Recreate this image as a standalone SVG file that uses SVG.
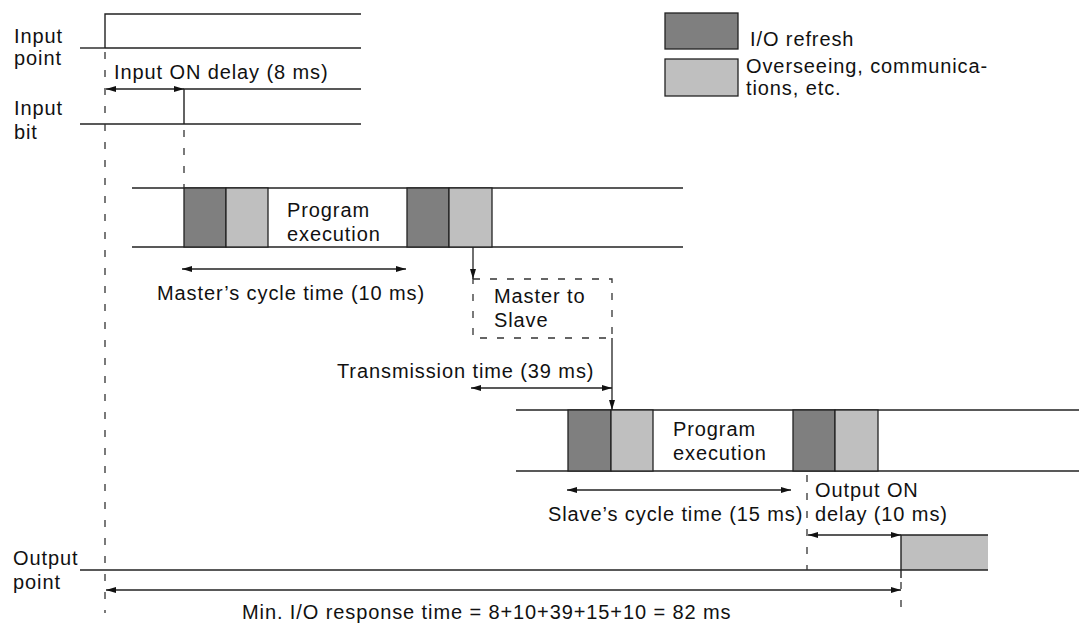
<svg xmlns="http://www.w3.org/2000/svg" width="1089" height="629" viewBox="0 0 1089 629">
<style>
text{font-family:"Liberation Sans",Arial,sans-serif;font-size:20px;letter-spacing:0.9px;fill:#111}
.ln{stroke:#222;stroke-width:1.4;fill:none}
.dash{stroke:#333;stroke-width:1.3;fill:none;stroke-dasharray:7 11}
.bdash{stroke:#333;stroke-width:1.3;fill:none;stroke-dasharray:7 10}
.dk{fill:#7f7f7f;stroke:#222;stroke-width:1.3}
.lt{fill:#bfbfbf;stroke:#222;stroke-width:1.3}
.ar{stroke:#222;stroke-width:1.3;fill:none;marker-end:url(#ah)}
.ar2{stroke:#222;stroke-width:1.3;fill:none;marker-start:url(#ahs);marker-end:url(#ah)}
</style>
<defs>
<marker id="ah" viewBox="0 0 10 6" refX="10" refY="3" markerWidth="10" markerHeight="6" markerUnits="userSpaceOnUse" orient="auto">
<path d="M0,0 L10,3 L0,6 z" fill="#111"/>
</marker>
<marker id="ahs" viewBox="0 0 10 6" refX="0" refY="3" markerWidth="10" markerHeight="6" markerUnits="userSpaceOnUse" orient="auto">
<path d="M10,0 L0,3 L10,6 z" fill="#111"/>
</marker>
</defs>
<rect width="1089" height="629" fill="#fff"/>

<g id="legend">
<rect class="dk" x="665" y="13" width="73" height="36"/>
<text x="750" y="46">I/O refresh</text>
<rect class="lt" x="665" y="59" width="73" height="37"/>
<text x="746" y="73">Overseeing, communica-</text>
<text x="746" y="95">tions, etc.</text>
</g>

<g id="input-point">
<text x="14" y="43">Input</text>
<text x="14" y="65">point</text>
<polyline class="ln" points="80,48 105,48"/>
<polyline class="ln" points="105,48 361,48"/>
<polyline class="ln" points="105,48 105,14 361,14"/>
</g>

<g id="input-bit">
<text x="14" y="115">Input</text>
<text x="14" y="139">bit</text>
<polyline class="ln" points="80,124 361,124"/>
<polyline class="ln" points="184,124 184,89 361,89"/>
</g>

<g id="master-cycle">
<line class="ln" x1="132" y1="188" x2="683" y2="188"/>
<line class="ln" x1="132" y1="247" x2="683" y2="247"/>
<rect class="dk" x="184" y="188" width="42" height="59"/>
<rect class="lt" x="226" y="188" width="42" height="59"/>
<text x="287" y="217">Program</text>
<text x="287" y="241">execution</text>
<rect class="dk" x="407" y="188" width="42" height="59"/>
<rect class="lt" x="449" y="188" width="43" height="59"/>
</g>

<g id="master-to-slave">
<rect class="bdash" x="473" y="279" width="139" height="59"/>
<text x="494" y="303">Master  to</text>
<text x="494" y="327">Slave</text>
</g>

<g id="slave-cycle">
<line class="ln" x1="516" y1="410" x2="1079" y2="410"/>
<line class="ln" x1="516" y1="471" x2="1079" y2="471"/>
<rect class="dk" x="568" y="410" width="43" height="61"/>
<rect class="lt" x="611" y="410" width="42" height="61"/>
<text x="673" y="436">Program</text>
<text x="673" y="460">execution</text>
<rect class="dk" x="793" y="410" width="42" height="61"/>
<rect class="lt" x="835" y="410" width="43" height="61"/>
</g>

<g id="output-point">
<text x="13" y="565">Output</text>
<text x="13" y="589">point</text>
<rect x="901" y="535" width="87" height="35" fill="#bfbfbf"/>
<polyline class="ln" points="901,578 901,535 988,535"/>
<line class="ln" x1="80" y1="570" x2="988" y2="570"/>
</g>

<g id="connectors">
<line class="dash" x1="105" y1="52" x2="105" y2="613"/>
<line class="dash" x1="184" y1="130" x2="184" y2="188"/>
<line class="dash" x1="807" y1="475" x2="807" y2="570"/>
<line class="dash" x1="901" y1="582" x2="901" y2="613"/>
<line class="ar2" x1="106" y1="89" x2="184" y2="89"/>
<line class="ar2" x1="182" y1="269" x2="406" y2="269"/>
<line class="ar" x1="473" y1="247" x2="473" y2="279"/>
<line class="ar" x1="612" y1="338" x2="612" y2="410"/>
<line class="ar2" x1="471" y1="388" x2="612" y2="388"/>
<line class="ar2" x1="567" y1="490" x2="791" y2="490"/>
<line class="ar2" x1="808" y1="535" x2="901" y2="535"/>
<line class="ar2" x1="106" y1="590" x2="901" y2="590"/>
</g>

<g id="labels">
<text x="114" y="79">Input ON delay (8 ms)</text>
<text x="157" y="300">Master’s cycle time (10 ms)</text>
<text x="337" y="378">Transmission time (39 ms)</text>
<text x="548" y="521">Slave’s cycle time (15 ms)</text>
<text x="815" y="497">Output ON</text>
<text x="815" y="521">delay (10 ms)</text>
<text x="242" y="619">Min. I/O response time = 8+10+39+15+10 = 82 ms</text>
</g>
</svg>
